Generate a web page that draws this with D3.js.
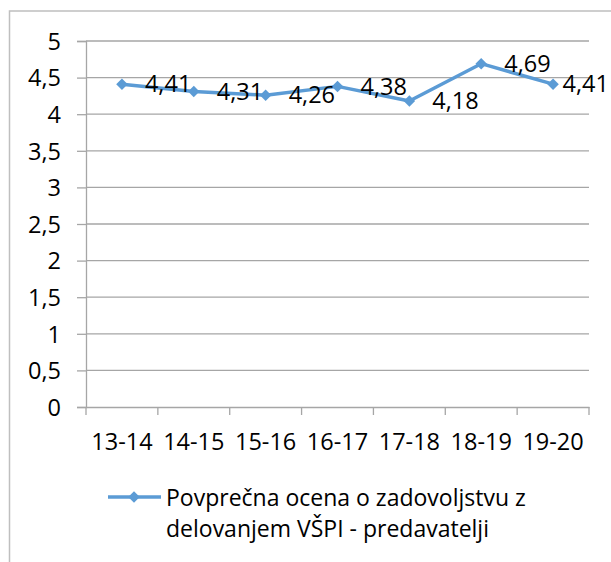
<!DOCTYPE html>
<html>
<head>
<meta charset="utf-8">
<script src="https://cdn.jsdelivr.net/npm/d3@7"></script>
<style>
  body { margin: 0; background: #fff; }
  text { font-family: "Open Sans", sans-serif; fill: #000; }
</style>
</head>
<body>
<div id="chart"></div>
<script>
// data
var seasons = ['13-14', '14-15', '15-16', '16-17', '17-18', '18-19', '19-20'];
var scores = [4.41, 4.31, 4.26, 4.38, 4.18, 4.69, 4.41];
var yTicks = [0, 0.5, 1, 1.5, 2, 2.5, 3, 3.5, 4, 4.5, 5];
var seriesName = ['Povprečna ocena o zadovoljstvu z', 'delovanjem VŠPI - predavatelji'];

var width = 611,
    height = 562,
    margin = { top: 41, left: 86, right: 22, bottom: 155 },
    blue = '#5b9bd5',
    gridColor = '#a6a6a6',
    fontSize = 23.5;

var svg = d3.select('#chart').append('svg')
    .attr('width', width)
    .attr('height', height);

// chart border (runs off the picture right and bottom)
svg.append('rect')
    .attr('x', 9.5)
    .attr('y', 11)
    .attr('width', 700)
    .attr('height', 700)
    .attr('fill', 'none')
    .attr('stroke', '#bfbfbf')
    .attr('stroke-width', 1.5);

var x = d3.scaleBand()
    .domain(seasons)
    .range([margin.left, width - margin.right]);

var y = d3.scaleLinear()
    .domain([0, 5])
    .range([height - margin.bottom, margin.top]);

// gridlines
svg.append('g').selectAll('line')
    .data(yTicks.slice(1))
    .enter().append('line')
    .attr('x1', margin.left)
    .attr('x2', width - margin.right)
    .attr('y1', function(d) { return y(d); })
    .attr('y2', function(d) { return y(d); })
    .attr('stroke', gridColor)
    .attr('stroke-width', 1.3);

// y axis
var yAxis = svg.append('g')
    .attr('transform', 'translate(' + margin.left + ',0)')
    .call(d3.axisLeft(y).tickValues(yTicks).tickSize(9).tickPadding(16)
        .tickFormat(function(d) { return String(d).replace('.', ','); }));
yAxis.select('.domain').attr('stroke', gridColor).attr('stroke-width', 1.3);
yAxis.selectAll('.tick line').attr('stroke', gridColor).attr('stroke-width', 1.3);
yAxis.selectAll('.tick text')
    .style('font-size', fontSize + 'px')
    .attr('dy', '0.35em');

// x axis
var xAxis = svg.append('g')
    .attr('transform', 'translate(0,' + y(0) + ')')
    .call(d3.axisBottom(x).tickSize(0).tickPadding(26));
xAxis.select('.domain').attr('stroke', gridColor).attr('stroke-width', 1.3);
xAxis.selectAll('.tick text').style('font-size', fontSize + 'px');

// category boundary ticks
var bounds = seasons.map(function(d) { return x(d); }).concat([x.range()[1]]);
xAxis.selectAll('.bound')
    .data(bounds)
    .enter().append('line')
    .attr('class', 'bound')
    .attr('x1', function(d) { return d; })
    .attr('x2', function(d) { return d; })
    .attr('y1', 0)
    .attr('y2', 8)
    .attr('stroke', gridColor)
    .attr('stroke-width', 1.3);

// series
var pts = seasons.map(function(s, i) {
    return { name: s, value: scores[i], px: x(s) + x.bandwidth() / 2, py: y(scores[i]) };
});

var line = d3.line()
    .x(function(d) { return d.px; })
    .y(function(d) { return d.py; });

svg.append('path')
    .datum(pts)
    .attr('d', line)
    .attr('fill', 'none')
    .attr('stroke', blue)
    .attr('stroke-width', 3.5)
    .attr('stroke-linejoin', 'round');

// diamond = square turned 45 degrees
var marker = d3.symbol().type(d3.symbolSquare).size(66);

svg.append('g').selectAll('path')
    .data(pts)
    .enter().append('path')
    .attr('d', marker)
    .attr('transform', function(d) { return 'translate(' + d.px + ',' + d.py + ') rotate(45)'; })
    .attr('fill', blue);

// value labels, pushed back inside at the right edge like Excel does
svg.append('g').selectAll('text')
    .data(pts)
    .enter().append('text')
    .attr('y', function(d) { return d.py; })
    .attr('dy', '0.35em')
    .style('font-size', fontSize + 'px')
    .text(function(d) { return String(d.value).replace('.', ','); })
    .attr('x', function(d) {
        var w = this.getComputedTextLength();
        return Math.min(d.px + 23, 609 - w);
    });

// legend
var legend = svg.append('g');
legend.append('line')
    .attr('x1', 108)
    .attr('x2', 161)
    .attr('y1', 497)
    .attr('y2', 497)
    .attr('stroke', blue)
    .attr('stroke-width', 3.5);
legend.append('path')
    .attr('d', marker)
    .attr('transform', 'translate(134,497) rotate(45)')
    .attr('fill', blue);
legend.selectAll('text')
    .data(seriesName)
    .enter().append('text')
    .attr('x', 166)
    .attr('y', function(d, i) { return 506 + i * 31; })
    .style('font-size', '23px')
    .text(function(d) { return d; });
</script>
</body>
</html>
